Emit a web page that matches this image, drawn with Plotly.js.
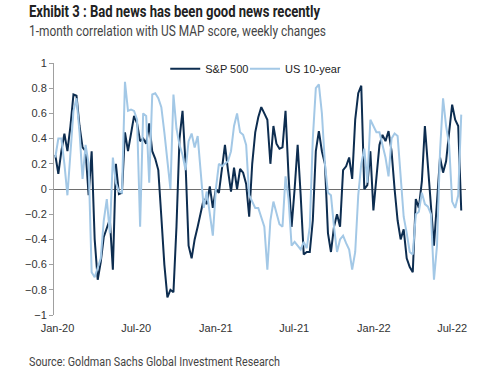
<!DOCTYPE html>
<html>
<head>
<meta charset="utf-8">
<script src="https://cdn.plot.ly/plotly-3.0.1.min.js"></script>
<style>
html,body{margin:0;padding:0;background:#fff;}
#chart{width:500px;height:371px;}
</style>
</head>
<body>
<div id="chart"></div>
<script>
// Weekly observations, first week ending 2019-12-27
const startDate = "2019-12-27";
const seriesNames = ["S&P 500", "US 10-year"];
const sp500 = [
 0.27, 0.12, 0.30, 0.44, 0.30, 0.50, 0.75, 0.74, 0.50, 0.33,
 0.30, -0.05, 0.30, -0.40, -0.72, -0.58, -0.38, -0.30, -0.24, -0.64,
 0.20, -0.04, -0.03, 0.45, 0.30, 0.44, 0.58, 0.52, 0.38, 0.40,
 0.36, 0.52, 0.30, 0.24, 0.15, -0.22, -0.60, -0.86, -0.80, -0.82,
 -0.30, 0.40, 0.62, 0.20, -0.45, -0.55, -0.40, -0.30, -0.20, -0.08,
 -0.12, 0.02, -0.15, 0.00, -0.03, 0.18, 0.35, 0.15, -0.02, 0.17,
 0.00, 0.16, 0.13, 0.04, -0.22, 0.20, 0.45, 0.57, 0.65, 0.60,
 0.55, 0.20, 0.50, 0.36, 0.32, 0.33, 0.62, 0.10, -0.30, 0.00,
 0.35, -0.05, -0.52, -0.50, -0.50, -0.25, 0.30, 0.46, 0.30, 0.20,
 -0.35, -0.50, -0.30, -0.20, -0.30, 0.15, 0.18, 0.25, 0.08, 0.55,
 0.76, 0.82, 0.00, 0.03, 0.30, -0.17, 0.10, 0.35, 0.43, 0.38,
 0.46, 0.30, 0.00, -0.25, -0.40, -0.32, -0.55, -0.62, -0.66, -0.08,
 -0.15, 0.06, 0.50, 0.20, -0.10, -0.45, -0.10, 0.25, 0.13, 0.22,
 0.45, 0.67, 0.55, 0.50, -0.17
];
const us10y = [
 0.25, 0.40, 0.40, 0.20, -0.05, 0.30, 0.62, 0.72, 0.45, 0.08,
 0.35, 0.20, -0.66, -0.70, -0.62, -0.55, -0.25, -0.08, -0.35, 0.25,
 0.05, -0.02, -0.03, 0.85, 0.62, 0.63, 0.62, 0.55, -0.30, 0.60,
 0.58, 0.05, 0.75, 0.76, 0.72, 0.65, 0.45, 0.20, 0.00, 0.75,
 0.48, 0.35, 0.27, 0.15, 0.38, 0.44, 0.33, 0.42, 0.10, -0.15,
 -0.02, -0.20, -0.37, 0.00, 0.20, 0.18, 0.20, 0.22, 0.30, 0.50,
 0.60, 0.45, 0.43, 0.35, -0.05, -0.10, -0.15, -0.15, -0.22, -0.30,
 -0.64, -0.25, -0.10, -0.20, -0.28, -0.30, 0.10, -0.08, -0.45, -0.42,
 -0.45, -0.48, -0.42, -0.47, -0.30, 0.40, 0.80, 0.83, 0.60, 0.20,
 -0.03, -0.05, -0.30, -0.50, -0.40, -0.37, -0.43, -0.48, -0.64, -0.50,
 -0.05, 0.20, 0.32, 0.05, 0.55, 0.50, 0.45, 0.45, 0.35, 0.25,
 0.10, 0.40, 0.44, 0.42, 0.10, -0.22, -0.35, -0.50, -0.52, -0.20,
 -0.18, -0.03, -0.12, -0.14, -0.20, -0.72, -0.45, 0.30, 0.72, 0.50,
 0.35, -0.10, -0.15, -0.05, 0.59
];
const tickDates = ["2020-01-01","2020-07-01","2021-01-01","2021-07-01","2022-01-01","2022-07-01"];
const tickLabels = ["Jan-20","Jul-20","Jan-21","Jul-21","Jan-22","Jul-22"];
const yTicks = [-1,-0.8,-0.6,-0.4,-0.2,0,0.2,0.4,0.6,0.8,1];

function weeklyDates(start, n){
  const out = [];
  const d0 = new Date(start + "T00:00:00Z");
  for(let i=0;i<n;i++){
    const d = new Date(d0.getTime() + i*7*86400000);
    out.push(d.toISOString().slice(0,10));
  }
  return out;
}
const dates = weeklyDates(startDate, sp500.length);

const headFont = "Roboto, 'Liberation Sans', sans-serif";
const arial = "'Liberation Sans', Arial, sans-serif";

const traces = [
  {x: dates, y: sp500, name: seriesNames[0], type: "scatter", mode: "lines",
   line: {color: "#0d2d50", width: 2}, legend: "legend"},
  {x: dates, y: us10y, name: seriesNames[1], type: "scatter", mode: "lines",
   line: {color: "#a3c8e6", width: 2}, legend: "legend2"}
];

const legendStyle = {font: {family: arial, size: 11, color: "#222"}, bgcolor: "rgba(0,0,0,0)",
                     orientation: "h", xanchor: "left", yanchor: "top", y: 1.035};

const layout = {
  width: 500, height: 371,
  margin: {l: 54, r: 34, t: 63, b: 56},
  paper_bgcolor: "#fff", plot_bgcolor: "#fff",
  showlegend: true,
  legend: Object.assign({x: 0.27}, legendStyle),
  legend2: Object.assign({x: 0.4636}, legendStyle),
  xaxis: {type: "date", range: ["2019-12-24", "2022-08-02"],
          tickvals: tickDates, ticktext: tickLabels, showgrid: false,
          zeroline: false, showline: false, ticks: "", ticklabelstandoff: 5,
          tickfont: {family: arial, size: 11, color: "#333"}},
  yaxis: {range: [-1, 1], tickvals: yTicks, showgrid: false,
          zeroline: true, zerolinecolor: "#6e6e6e", zerolinewidth: 1,
          showline: true, linecolor: "#a0a0a0", linewidth: 1,
          ticks: "outside", ticklen: 4, tickcolor: "#a0a0a0",
          tickfont: {family: arial, size: 11, color: "#333"}},
  annotations: [
    {text: "<b>Exhibit 3 : Bad news has been good news recently</b>", xref: "paper", yref: "paper",
     x: -0.065, y: 1.205, xanchor: "left", yanchor: "middle", showarrow: false,
     font: {family: headFont, size: 16, color: "#222"}},
    {text: "1-month correlation with US MAP score, weekly changes", xref: "paper", yref: "paper",
     x: -0.065, y: 1.127, xanchor: "left", yanchor: "middle", showarrow: false,
     font: {family: headFont, size: 14, color: "#444"}},
    {text: "Source: Goldman Sachs Global Investment Research", xref: "paper", yref: "paper",
     x: -0.065, y: -0.183, xanchor: "left", yanchor: "middle", showarrow: false,
     font: {family: headFont, size: 12.5, color: "#444"}}
  ]
};

// target rendered widths (px) for the condensed heading texts
const headWidths = [291, 297, 251];

Plotly.newPlot("chart", traces, layout, {displayModeBar: false, staticPlot: true}).then(function(gd){
  const texts = gd.querySelectorAll(".annotation-text");
  texts.forEach(function(t, k){
    if (headWidths[k]) {
      const bb = t.getBBox();
      t.setAttribute("text-anchor", "start");
      t.setAttribute("x", bb.x);
      t.setAttribute("textLength", headWidths[k]);
      t.setAttribute("lengthAdjust", "spacingAndGlyphs");
    }
  });
});
</script>
</body>
</html>
